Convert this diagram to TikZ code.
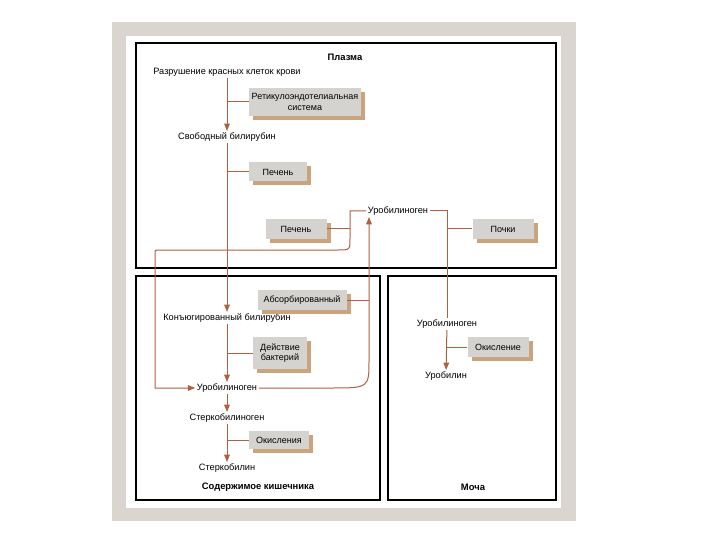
\documentclass[tikz,border=0pt]{standalone}
\usepackage{fontspec}
\setmainfont{Liberation Sans}
\usepackage{tikz}
\usetikzlibrary{arrows.meta,positioning,shadows,calc}
\definecolor{FrameGray}{HTML}{DAD6CF}
\definecolor{FlowBrown}{HTML}{B0603F}
\definecolor{BoxGray}{HTML}{D5D3D0}
\definecolor{ShadowTan}{HTML}{C9A47C}
\tikzset{
  zone/.style={draw=black,line width=1.2pt},
  lbl/.style={inner sep=1.5pt,font=\fontsize{9.2}{10.5}\selectfont},
  title/.style={inner sep=1pt,font=\fontsize{9.4}{11}\selectfont\bfseries},
  agent/.style={fill=BoxGray,align=center,inner sep=2pt,
    font=\fontsize{9}{10.5}\selectfont,
    drop shadow={shadow xshift=4pt,shadow yshift=-4pt,fill=ShadowTan,opacity=1}},
  flow/.style={-{Triangle[length=2.6mm,width=2mm]},draw=FlowBrown,line width=1pt},
  link/.style={draw=FlowBrown,line width=1pt}
}
\begin{document}
\begin{tikzpicture}[x=1pt,y=-1pt]
  \useasboundingbox (0,0) rectangle (720,540);
  % outer frame
  \fill[FrameGray] (112,22) rectangle (576,521);
  \fill[white] (126,36) rectangle (561,508);
  \draw[zone] (136,43) rectangle (556,268);
  \draw[zone] (136,276) rectangle (380,500);
  \draw[zone] (388,276) rectangle (556,500);
  \node[title] (plasma) at (345,57) {Плазма};
  \node[title] (gut) at (258,487) {Содержимое кишечника};
  \node[title] (urine) at (473,487) {Моча};

  % main chain
  \node[lbl] (rbc) at (227,72) {Разрушение красных клеток крови};
  \node[lbl] (freebil) at (227,137) {Свободный билирубин};
  \node[lbl] (conjbil) at (227,318) {Конъюгированный билирубин};
  \node[lbl] (urogut) at (227,388) {Уробилиноген};
  \node[lbl] (sterkogen) at (227,418) {Стеркобилиноген};
  \node[lbl] (sterkobil) at (227,468) {Стеркобилин};
  \node[lbl] (uroplasma) at (398,211) {Уробилиноген};
  \node[lbl] (urourine) at (447,324) {Уробилиноген};
  \node[lbl] (urobilin) at (446,376) {Уробилин};

  \node[agent,minimum width=112pt,minimum height=28pt] (res) at (305,102) {Ретикулоэндотелиальная\\система};
  \node[agent,minimum width=58pt,minimum height=19pt] (liver) at (278,172) {Печень};
  \node[agent,minimum width=61pt,minimum height=20pt] (liver2) at (296,229) {Печень};
  \node[agent,minimum width=61pt,minimum height=20pt] (kidney) at (503,229) {Почки};
  \node[agent,minimum width=89pt,minimum height=20pt] (absorb) at (302,300) {Абсорбированный};
  \node[agent,minimum width=54pt,minimum height=32pt] (bact) at (280,353) {Действие\\бактерий};
  \node[agent,minimum width=60pt,minimum height=18pt] (oxid) at (279,440) {Окисления};
  \node[agent,minimum width=61pt,minimum height=20pt] (oxid2) at (498,347) {Окисление};

  \draw[flow] (rbc) -- (freebil);
  \draw[flow] (freebil) -- (conjbil);
  \draw[flow] (conjbil) -- (urogut);
  \draw[flow] (urogut) -- (sterkogen);
  \draw[flow] (sterkogen) -- (sterkobil);
  \draw[flow] (urourine) -- (urobilin);
  \foreach \agentname in {res,liver,bact,oxid}
    \draw[link] (\agentname.west) -- (\agentname.west -| rbc);
  \draw[link] (oxid2.west) -- (oxid2.west -| urourine);

  % return loop and enterohepatic route
  \coordinate (lx) at (350,250);
  \coordinate (ll) at (155,250);
  \coordinate (rx) at (369,360);
  \coordinate (ux) at (447,250);
  \draw[flow] (uroplasma.west) -- (uroplasma.west -| lx) -- ($(lx)+(0,-12)$)
    .. controls (lx) .. ($(lx)+(-12,0)$) -- ($(ll)+(3,0)$)
    .. controls (ll) .. ($(ll)+(0,3)$) |- (urogut.west);
  \draw[link] (liver2.east) -- (liver2.east -| lx);
  \draw[flow] (urogut.east) -- (330,388) .. controls (369,388) .. (rx)
    -- (uroplasma.south -| rx);
  \draw[link] (absorb.east) -- (absorb.east -| rx);
  \draw[link] (uroplasma.east) -- (uroplasma.east -| ux) -- (urourine.north);
  \draw[link] (kidney.west) -- (kidney.west -| ux);
\end{tikzpicture}
\end{document}
